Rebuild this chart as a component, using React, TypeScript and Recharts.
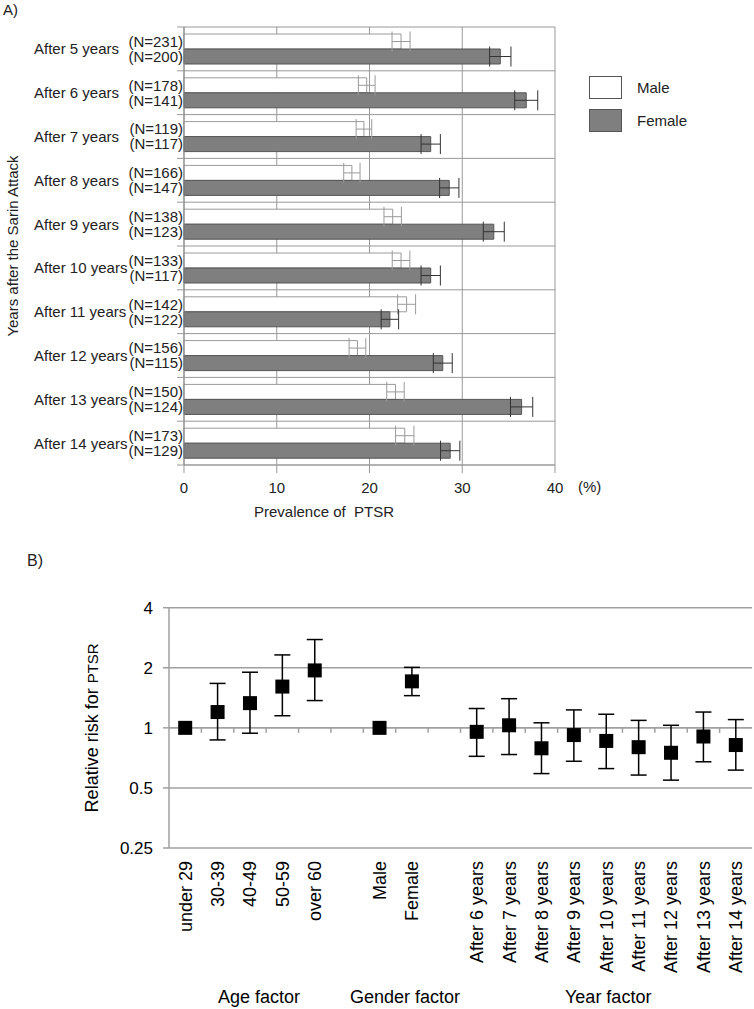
import React from 'react';
import {
  BarChart,
  Bar,
  XAxis,
  YAxis,
  CartesianGrid,
  ErrorBar,
  LabelList,
  ComposedChart,
  Line,
  ReferenceLine,
} from 'recharts';

const FONT = '"Liberation Sans", Arial, Helvetica, sans-serif';

// Panel A: prevalence of PTSR by year
const years = [
  'After 5 years',
  'After 6 years',
  'After 7 years',
  'After 8 years',
  'After 9 years',
  'After 10 years',
  'After 11 years',
  'After 12 years',
  'After 13 years',
  'After 14 years',
];
const maleN = [231, 178, 119, 166, 138, 133, 142, 156, 150, 173];
const femaleN = [200, 141, 117, 147, 123, 117, 122, 115, 124, 129];
const malePrevalence = [23.4, 19.7, 19.4, 18.1, 22.5, 23.4, 24.0, 18.7, 22.8, 23.8];
const maleError = [0.97, 0.9, 0.84, 0.88, 0.94, 0.95, 0.97, 0.9, 0.94, 0.99];
const femalePrevalence = [34.1, 36.9, 26.6, 28.6, 33.4, 26.6, 22.2, 27.9, 36.4, 28.7];
const femaleError = [1.15, 1.24, 1.04, 1.04, 1.13, 1.04, 0.94, 1.02, 1.2, 1.04];
const prevalenceTicks = [0, 10, 20, 30, 40];

// Panel B: relative risk for PTSR
const riskFactors = [
  'under 29',
  '30-39',
  '40-49',
  '50-59',
  'over 60',
  '',
  'Male',
  'Female',
  ' ',
  'After 6 years',
  'After 7 years',
  'After 8 years',
  'After 9 years',
  'After 10 years',
  'After 11 years',
  'After 12 years',
  'After 13 years',
  'After 14 years',
];
const riskRatio = [1, 1.2, 1.33, 1.61, 1.94, null, 1, 1.71, null, 0.955, 1.03, 0.79, 0.92, 0.86, 0.8, 0.75, 0.905, 0.82];
const riskLow = [null, 0.87, 0.94, 1.15, 1.37, null, null, 1.45, null, 0.72, 0.735, 0.59, 0.68, 0.625, 0.58, 0.547, 0.676, 0.614];
const riskHigh = [null, 1.67, 1.9, 2.32, 2.77, null, null, 2.01, null, 1.25, 1.4, 1.06, 1.23, 1.17, 1.09, 1.03, 1.2, 1.1];
const riskTicks = [0.25, 0.5, 1, 2, 4];

const prevalenceData = years.map((year, i) => ({
  year,
  male: malePrevalence[i],
  maleErr: maleError[i],
  maleN: `(N=${maleN[i]})`,
  female: femalePrevalence[i],
  femaleErr: femaleError[i],
  femaleN: `(N=${femaleN[i]})`,
}));

const riskData = riskFactors.map((factor, i) => ({
  factor,
  rr: riskRatio[i],
  err:
    riskRatio[i] != null && riskLow[i] != null && riskHigh[i] != null
      ? [riskRatio[i]! - riskLow[i]!, riskHigh[i]! - riskRatio[i]!]
      : null,
}));

const YEAR_LABEL_GAP = 150;

const YearTick = (props: any) => {
  const { x, y, payload, index, visibleTicksCount } = props;
  const half = payload.offset ?? 0;
  const axisX = x + YEAR_LABEL_GAP;
  return (
    <g>
      <text x={x} y={y} dy="0.36em" textAnchor="start" fontSize={15} fill="#222" fontFamily={FONT}>
        {payload.value}
      </text>
      <line x1={axisX - 7} x2={axisX} y1={y - half} y2={y - half} stroke="#999" />
      {index === visibleTicksCount - 1 && (
        <line x1={axisX - 7} x2={axisX} y1={y + half} y2={y + half} stroke="#999" />
      )}
    </g>
  );
};

const FactorTick = (props: any) => {
  const { x, y, payload } = props;
  if (!String(payload.value).trim()) return <g />;
  const ty = y + 13;
  return (
    <text
      x={x}
      y={ty}
      dy="0.36em"
      transform={`rotate(-90 ${x} ${ty})`}
      textAnchor="end"
      fontSize={18}
      fill="#000"
      fontFamily={FONT}
    >
      {payload.value}
    </text>
  );
};

const SquareDot = (props: any) => {
  const { cx, cy, value, index } = props;
  if (value == null || cx == null || cy == null) return <g key={`d-${index}`} />;
  return <rect key={`d-${index}`} x={cx - 7} y={cy - 7} width={14} height={14} fill="#000" />;
};

const OneLine = (props: any) => {
  const { x1, x2, y1 } = props;
  const step = (x2 - x1) / riskFactors.length;
  return (
    <g>
      <line x1={x1} x2={x2} y1={y1} y2={y1} stroke="#a0a0a0" strokeWidth={1.5} />
      {riskFactors.slice(1).map((_, i) => (
        <line
          key={i}
          x1={x1 + step * (i + 1)}
          x2={x1 + step * (i + 1)}
          y1={y1}
          y2={y1 + 5}
          stroke="#a0a0a0"
          strokeWidth={1.5}
        />
      ))}
    </g>
  );
};

const textStyle: React.CSSProperties = {
  position: 'absolute',
  fontFamily: FONT,
  color: '#222',
  lineHeight: 1,
  whiteSpace: 'pre',
};

export default function App() {
  return (
    <div style={{ position: 'absolute', left: 0, top: 0, width: 754, height: 1009, background: '#fff', fontFamily: FONT }}>
      <div style={{ ...textStyle, left: 3, top: 2, fontSize: 15 }}>A)</div>

      <div style={{ position: 'absolute', left: 0, top: 0 }}>
        <BarChart
          width={754}
          height={500}
          layout="vertical"
          data={prevalenceData}
          margin={{ top: 27, right: 199, bottom: 0, left: 0 }}
          barCategoryGap={7}
          barGap={0}
        >
          <CartesianGrid
            stroke="#999"
            horizontalCoordinatesGenerator={({ offset }: any) =>
              years.concat(['']).map((_, i) => offset.top + (i * offset.height) / years.length)
            }
          />
          <XAxis
            type="number"
            domain={[0, 40]}
            ticks={prevalenceTicks}
            height={35}
            tickSize={8}
            tickMargin={9}
            stroke="#999"
            tick={{ fontSize: 15, fill: '#222', fontFamily: FONT }}
          />
          <YAxis
            type="category"
            dataKey="year"
            width={184}
            tickLine={false}
            tickSize={0}
            tickMargin={YEAR_LABEL_GAP}
            stroke="#888"
            tick={<YearTick />}
            label={{
              content: ({ viewBox }: any) => (
                <text
                  x={viewBox.x + 13}
                  y={viewBox.y + viewBox.height / 2}
                  transform={`rotate(-90 ${viewBox.x + 13} ${viewBox.y + viewBox.height / 2})`}
                  textAnchor="middle"
                  dy="0.36em"
                  fontSize={15}
                  fill="#222"
                  fontFamily={FONT}
                >
                  Years after the Sarin Attack
                </text>
              ),
            }}
          />
          <Bar dataKey="male" fill="#fff" stroke="#9a9a9a" isAnimationActive={false}>
            <ErrorBar dataKey="maleErr" direction="x" width={10} stroke="#9a9a9a" strokeWidth={1} />
            <LabelList dataKey="maleN" position="left" offset={1} fontSize={15} fill="#222" fontFamily={FONT} />
          </Bar>
          <Bar dataKey="female" fill="#7f7f7f" stroke="#555" isAnimationActive={false}>
            <ErrorBar dataKey="femaleErr" direction="x" width={10} stroke="#333" strokeWidth={1} />
            <LabelList dataKey="femaleN" position="left" offset={1} fontSize={15} fill="#222" fontFamily={FONT} />
          </Bar>
        </BarChart>
      </div>

      <div style={{ ...textStyle, left: 578, top: 479, fontSize: 15 }}>(%)</div>
      <div style={{ ...textStyle, left: 254, top: 504, fontSize: 15 }}>Prevalence of  PTSR</div>

      {/* legend */}
      <div style={{ position: 'absolute', left: 589, top: 76, width: 31, height: 21, border: '1px solid #555', background: '#fff' }} />
      <div style={{ position: 'absolute', left: 589, top: 109, width: 31, height: 21, border: '1px solid #555', background: '#7f7f7f' }} />
      <div style={{ ...textStyle, left: 637, top: 80, fontSize: 15 }}>Male</div>
      <div style={{ ...textStyle, left: 637, top: 113, fontSize: 15 }}>Female</div>

      <div style={{ ...textStyle, left: 27, top: 553, fontSize: 16 }}>B)</div>

      <div style={{ position: 'absolute', left: 0, top: 560 }}>
        <ComposedChart
          width={754}
          height={449}
          data={riskData}
          margin={{ top: 47.7, right: 2, bottom: 0, left: 0 }}
        >
          <CartesianGrid vertical={false} stroke="#a0a0a0" strokeWidth={1.5} />
          <XAxis
            dataKey="factor"
            type="category"
            scale="band"
            height={161}
            interval={0}
            axisLine={false}
            tickLine={false}
            tickSize={0}
            tickMargin={0}
            tick={<FactorTick />}
          />
          <YAxis
            scale="log"
            domain={[0.25, 4]}
            ticks={riskTicks}
            allowDataOverflow
            width={169}
            tickSize={6}
            tickMargin={10}
            stroke="#a0a0a0"
            strokeWidth={1.5}
            tick={{ fontSize: 17, fill: '#000', fontFamily: FONT }}
            label={{
              content: ({ viewBox }: any) => {
                const lx = viewBox.x + 92;
                const ly = viewBox.y + viewBox.height / 2;
                return (
                  <text
                    x={lx}
                    y={ly}
                    transform={`rotate(-90 ${lx} ${ly})`}
                    textAnchor="middle"
                    dy="0.36em"
                    fontSize={18}
                    fill="#000"
                    fontFamily={FONT}
                  >
                    Relative risk for <tspan fontSize={15}>PTSR</tspan>
                  </text>
                );
              },
            }}
          />
          <ReferenceLine y={1} shape={<OneLine />} />
          <Line
            dataKey="rr"
            stroke="none"
            dot={<SquareDot />}
            activeDot={false}
            isAnimationActive={false}
          >
            <ErrorBar dataKey="err" direction="y" width={8} stroke="#000" strokeWidth={1.5} />
          </Line>
        </ComposedChart>
      </div>

      <div style={{ ...textStyle, left: 218, top: 988, fontSize: 18, color: '#000' }}>Age factor</div>
      <div style={{ ...textStyle, left: 350, top: 988, fontSize: 18, color: '#000' }}>Gender factor</div>
      <div style={{ ...textStyle, left: 565, top: 988, fontSize: 18, color: '#000' }}>Year factor</div>
    </div>
  );
}
